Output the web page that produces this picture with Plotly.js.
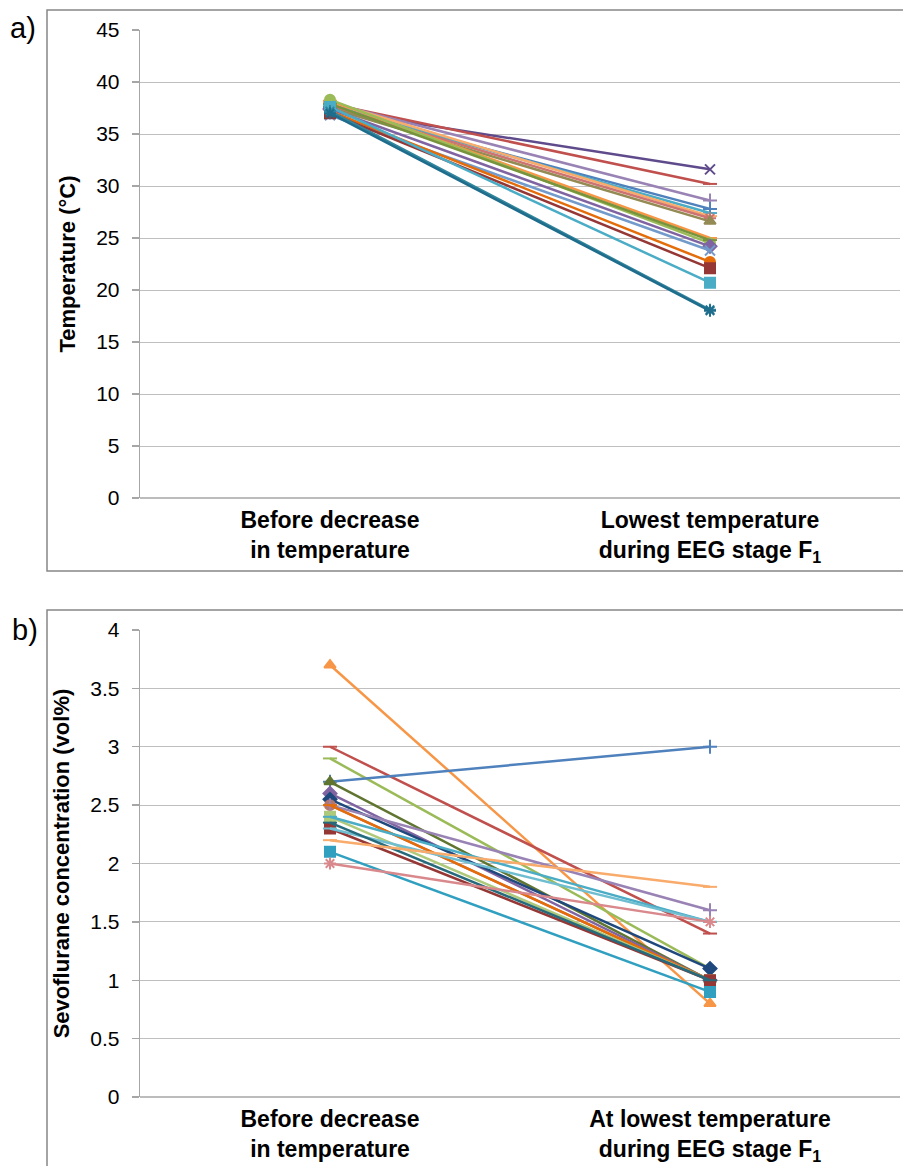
<!DOCTYPE html>
<html>
<head>
<meta charset="utf-8">
<script src="https://cdn.plot.ly/plotly-3.0.1.min.js"></script>
<style>html,body{margin:0;padding:0;background:#fff;} #chart{width:903px;height:1166px;}</style>
</head>
<body>
<div id="chart"></div>
<script>
// ---- Data ----
var categoriesA = ["Before decrease<br>in temperature", "Lowest temperature<br>during EEG stage F<sub>1</sub>"];
var categoriesB = ["Before decrease<br>in temperature", "At lowest temperature<br>during EEG stage F<sub>1</sub>"];

// Panel a: temperature (°C) per animal
var tempBefore = [37.3, 37.9, 38.0, 37.6, 37.8, 38.1, 37.7, 37.5, 38.2, 38.3, 37.9, 37.4, 36.8, 37.2, 37.0, 37.6, 37.2, 37.0];
var tempLowest = [31.6, 30.2, 28.6, 27.8, 27.4, 27.1, 26.9, 26.6, 25.0, 24.5, 24.8, 24.2, 23.8, 22.7, 22.1, 20.7, 18.1, 18.0];

// Panel b: sevoflurane concentration (vol%) per animal
var sevoBefore = [3.7, 3.0, 2.9, 2.7, 2.7, 2.6, 2.55, 2.5, 2.5, 2.5, 2.4, 2.4, 2.3, 2.3, 2.35, 2.2, 2.1, 2.0];
var sevoLowest = [0.8, 1.4, 1.1, 3.0, 1.0, 1.0, 1.1, 1.0, 1.6, 1.0, 1.0, 1.5, 1.0, 1.5, 1.0, 1.8, 0.9, 1.5];

var yTicksA = [0, 5, 10, 15, 20, 25, 30, 35, 40, 45];
var yTicksB = [0, 0.5, 1, 1.5, 2, 2.5, 3, 3.5, 4];
var yTickTextB = ["0", "0.5", "1", "1.5", "2", "2.5", "3", "3.5", "4"];

// ---- Styles ----
var colorsA = ['#5F4B8B','#C0504D','#9983B5','#4F81BD','#4BACC6','#F9AB6B','#CD7371','#948A54','#F79646','#9BBB59','#77933C','#8064A2','#729ACA','#E46C0A','#953735','#4BACC6','#31859C','#1F6D8C'];
var symbolsA = ['x-thin-open','line-ew-open','cross-thin-open','cross-thin-open','line-ew-open','line-ew-open','asterisk-open','triangle-up','line-ew-open','circle','line-ew-open','diamond','x-thin-open','circle','square','square','asterisk-open','asterisk-open'];

var colorsB = ['#F79646','#C0504D','#9BBB59','#4F81BD','#5F7530','#8064A2','#1F497D','#B7766A','#9983B5','#E46C0A','#AFC97A','#4BACC6','#953735','#6FBDD1','#276A7C','#F9AB6B','#31A0C0','#D9888C'];
var symbolsB = ['triangle-up','line-ew-open','line-ew-open','cross-thin-open','triangle-up','diamond','diamond','circle','cross-thin-open','line-ew-open','square','line-ew-open','square','line-ew-open','line-ew-open','line-ew-open','square','asterisk-open'];

var traces = [];
function addTraces(before, lowest, colors, symbols, xa, ya) {
  for (var i = 0; i < before.length; i++) {
    traces.push({
      x: [0, 1], y: [before[i], lowest[i]],
      xaxis: xa, yaxis: ya,
      mode: 'lines+markers',
      line: {color: colors[i], width: 2.5},
      marker: {symbol: symbols[i], size: 10, color: colors[i], line: {color: colors[i], width: 2}},
      showlegend: false, hoverinfo: 'y'
    });
  }
}
addTraces(tempBefore, tempLowest, colorsA, symbolsA, 'x', 'y');
addTraces(sevoBefore, sevoLowest, colorsB, symbolsB, 'x2', 'y2');

var W = 903, H = 1166;
function px(x) { return x / W; }
function py(y) { return 1 - y / H; }

var tickFont = {family: 'Liberation Sans, Arial, sans-serif', size: 21, color: '#000'};
var catFont = {family: 'Liberation Sans, Arial, sans-serif', size: 23, color: '#000', weight: 'bold'};
var titleFont = {family: 'Liberation Sans, Arial, sans-serif', size: 22, color: '#000', weight: 'bold'};

var xCommon = {
  range: [-0.5, 1.5], tickvals: [0, 1], showgrid: false, zeroline: false,
  showline: false, ticks: '', tickfont: catFont, fixedrange: true, ticklabelstandoff: 6
};
var yCommon = {
  showgrid: true, gridcolor: '#BFBFBF', gridwidth: 1, zeroline: false,
  showline: true, linecolor: '#A6A6A6', linewidth: 1.3,
  ticks: 'outside', ticklen: 7, tickcolor: '#A6A6A6', tickwidth: 1.3,
  tickfont: tickFont, ticklabelstandoff: 8
};

var layout = {
  width: W, height: H,
  margin: {l: 0, r: 0, t: 0, b: 0},
  paper_bgcolor: '#fff', plot_bgcolor: '#fff',
  showlegend: false,
  xaxis: Object.assign({}, xCommon, {domain: [px(140), px(900)], anchor: 'y', ticktext: categoriesA}),
  yaxis: Object.assign({}, yCommon, {domain: [py(498), py(30)], anchor: 'x', range: [0, 45], tickvals: yTicksA,
    title: {text: 'Temperature (°C)', font: titleFont, standoff: 14}}),
  xaxis2: Object.assign({}, xCommon, {domain: [px(140), px(900)], anchor: 'y2', ticktext: categoriesB}),
  yaxis2: Object.assign({}, yCommon, {domain: [py(1097), py(630)], anchor: 'x2', range: [0, 4], tickvals: yTicksB, ticktext: yTickTextB,
    title: {text: 'Sevoflurane concentration (vol%)', font: titleFont, standoff: 14}}),
  shapes: [
    {type: 'rect', xref: 'paper', yref: 'paper', x0: px(47), x1: 1.02, y0: py(571), y1: py(10), line: {color: '#868686', width: 1.5}, layer: 'below'},
    {type: 'rect', xref: 'paper', yref: 'paper', x0: px(47), x1: 1.02, y0: -0.02, y1: py(610), line: {color: '#868686', width: 1.5}, layer: 'below'},
    {type: 'line', xref: 'paper', yref: 'paper', x0: px(140), x1: px(900), y0: py(498), y1: py(498), line: {color: '#A6A6A6', width: 1.3}},
    {type: 'line', xref: 'paper', yref: 'paper', x0: px(140), x1: px(900), y0: py(1097), y1: py(1097), line: {color: '#A6A6A6', width: 1.3}}
  ],
  annotations: [
    {text: 'a)', xref: 'paper', yref: 'paper', x: px(8), y: py(28), xanchor: 'left', yanchor: 'middle', showarrow: false,
     font: {family: 'Liberation Sans, Arial, sans-serif', size: 29, color: '#000'}},
    {text: 'b)', xref: 'paper', yref: 'paper', x: px(10), y: py(630), xanchor: 'left', yanchor: 'middle', showarrow: false,
     font: {family: 'Liberation Sans, Arial, sans-serif', size: 29, color: '#000'}}
  ]
};

Plotly.newPlot('chart', traces, layout, {staticPlot: true, displayModeBar: false});
</script>
</body>
</html>
